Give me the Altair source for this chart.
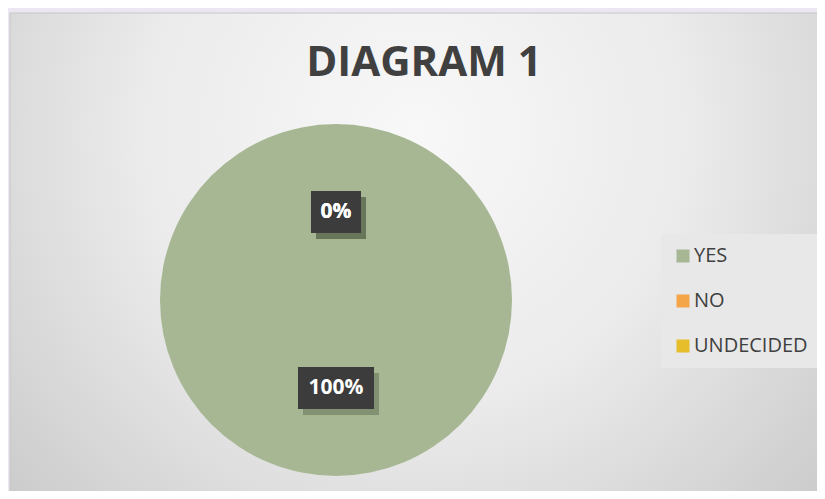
import altair as alt
import pandas as pd

categories = ["YES", "NO", "UNDECIDED"]
values = [100, 0, 0]
colors = ["#a7b794", "#f4a548", "#e6bd2b"]
title_text = "DIAGRAM 1"

W, H = 809, 483
CX, CY, R = 328, 292, 176
LR = 88

df = pd.DataFrame({"category": categories, "value": values, "idx": list(range(len(categories)))})

color_scale = alt.Scale(domain=categories, range=colors)

bg = alt.Chart(pd.DataFrame({"a": [0]})).mark_rect(
    color=alt.Gradient(
        gradient="radial",
        x1=0.5, y1=0.35, r1=0.0,
        x2=0.5, y2=0.35, r2=0.75,
        stops=[alt.GradientStop(offset=0, color="#f8f8f8"),
               alt.GradientStop(offset=0.45, color="#ebebeb"),
               alt.GradientStop(offset=1, color="#c4c4c4")],
    ),
    stroke="#c6c6c6", strokeWidth=1,
).encode(x=alt.value(2), x2=alt.value(W + 4), y=alt.value(5), y2=alt.value(H + 4))

title = alt.Chart(pd.DataFrame({"t": [title_text]})).mark_text(
    font="Open Sans", fontWeight="bold", fontSize=42, color="#404040",
    align="center", baseline="alphabetic",
).encode(x=alt.value(416), y=alt.value(68), text="t:N")

pie = alt.Chart(df).mark_arc(radius=R, stroke=None).encode(
    theta=alt.Theta("value:Q", stack=True),
    order=alt.Order("idx:Q"),
    color=alt.Color(
        "category:N", scale=color_scale, sort=categories,
        legend=alt.Legend(
            title=None, orient="none", legendX=653, legendY=226,
            fillColor="#e8e8e8", padding=12, symbolType="square",
            symbolSize=169, symbolStrokeWidth=0, labelFont="Open Sans",
            labelFontSize=20, labelColor="#404040", rowPadding=25,
            labelOffset=1, symbolOpacity=1,
        ),
    ),
    x=alt.value(CX), y=alt.value(CY),
)

lab = alt.Chart(df).transform_joinaggregate(
    total="sum(value)"
).transform_window(
    cum="sum(value)", sort=[alt.SortField("idx")], frame=[None, 0]
).transform_calculate(
    ang="(datum.cum - datum.value / 2) / datum.total * 2 * PI",
    label="format(datum.value / datum.total, '.0%')",
).transform_calculate(
    px=f"{CX} + {LR} * sin(datum.ang)",
    py=f"{CY} - {LR} * cos(datum.ang)",
    bw="24 + 13 * length(datum.label)",
).transform_calculate(
    x1="datum.px - datum.bw / 2", x2="datum.px + datum.bw / 2",
    y1="datum.py - 21", y2="datum.py + 21",
    sx1="datum.px - datum.bw / 2 + 5", sx2="datum.px + datum.bw / 2 + 5",
    sy1="datum.py - 15", sy2="datum.py + 27",
)

shadow = lab.mark_rect(color="#2f3a22", opacity=0.3).encode(
    x=alt.X("sx1:Q", scale=None), x2="sx2:Q",
    y=alt.Y("sy1:Q", scale=None), y2="sy2:Q",
)
box = lab.mark_rect(color="#3c3c3c").encode(
    x=alt.X("x1:Q", scale=None), x2="x2:Q",
    y=alt.Y("y1:Q", scale=None), y2="y2:Q",
)
txt = lab.mark_text(
    font="Open Sans", fontWeight="bold", fontSize=21, color="white",
    align="center", baseline="middle",
).encode(
    x=alt.X("px:Q", scale=None), y=alt.Y("py:Q", scale=None), text="label:N",
)

chart = alt.layer(bg, title, pie, shadow, box, txt).properties(
    width=W, height=H, padding=0, background="#ece6f2",
    autosize=alt.AutoSizeParams(type="none"),
).configure_view(stroke=None, clip=False)

chart.save("out.html", embed_options={"renderer": "svg", "actions": False})
